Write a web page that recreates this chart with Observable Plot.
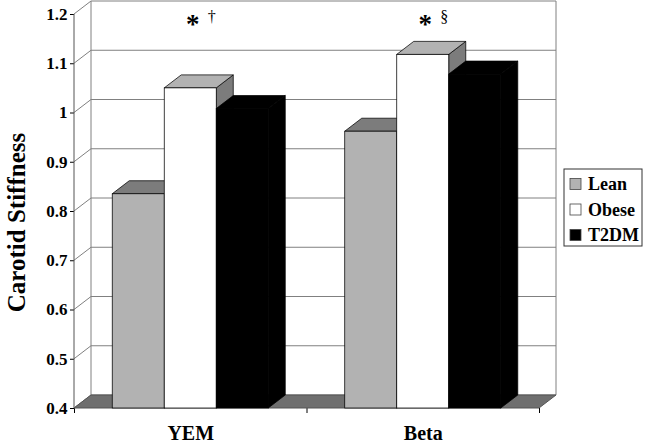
<!DOCTYPE html>
<html><head><meta charset="utf-8">
<script src="https://cdn.jsdelivr.net/npm/d3@7"></script>
<script src="https://cdn.jsdelivr.net/npm/@observablehq/plot@0.6"></script>
<style>
body{margin:0;background:#fff}
#chart svg text{font-family:'Liberation Serif','Times New Roman',serif !important;}
#chart svg [aria-label^="y-axis"] text{font-size:17px !important;font-weight:bold !important;}
</style>
</head><body><div id="chart"></div>
<script>
// ---- data ----
const categories = ["YEM", "Beta"];
const series = ["Lean", "Obese", "T2DM"];
const leanValues = [0.835, 0.962];
const obeseValues = [1.050, 1.118];
const t2dmValues = [1.008, 1.078];
const yTicks = [0.4, 0.5, 0.6, 0.7, 0.8, 0.9, 1.0, 1.1, 1.2];
const yTickLabels = ["0.4", "0.5", "0.6", "0.7", "0.8", "0.9", "1", "1.1", "1.2"];
const sigStar = ["*", "*"];
const sigMark = ["\u2020", "\u00a7"];
const yLabel = "Carotid Stiffness";

// ---- style / layout ----
const W = 648, H = 444;
const DX = 17, DY = -13;          // 3D depth offset (px)
const barW = 0.2237;              // bar width in band units
const frontFill = ["#b2b2b2", "#ffffff", "#000000"];
const topFill = ["#7c7c7c", "#b2b2b2", "#000000"];
const sideFill = ["#7c7c7c", "#7c7c7c", "#000000"];
const gridColor = "#808080";
const floorFill = "#6f6f6f";
const serif = "'Liberation Serif', 'Times New Roman', serif";

const valuesBySeries = [leanValues, obeseValues, t2dmValues];
const rows = [];
categories.forEach((c, i) => series.forEach((s, j) => {
  const x1 = i + 0.5 + (j - 1.5) * barW;
  rows.push({category: c, series: s, si: j, x1, x2: x1 + barW, value: valuesBySeries[j][i]});
}));
const yMin = yTicks[0], yMax = yTicks[yTicks.length - 1];

function wallsMark(index, scales) {
  const {x, y} = scales;
  const g = d3.create("svg:g");
  const X0 = x(0), X1 = x(categories.length), Y0 = y(yMin), Y1 = y(yMax);
  for (const t of yTicks) {
    const Y = y(t);
    g.append("path").attr("d", `M${X0},${Y}L${X0 + DX},${Y + DY}L${X1 + DX},${Y + DY}`)
      .attr("fill", "none").attr("stroke", gridColor).attr("stroke-width", 1);
  }
  g.append("path").attr("d", `M${X0 + DX},${Y0 + DY}L${X0 + DX},${Y1 + DY}`)
    .attr("stroke", gridColor).attr("fill", "none");
  g.append("path").attr("d", `M${X1 + DX},${Y0 + DY}L${X1 + DX},${Y1 + DY}`)
    .attr("stroke", gridColor).attr("fill", "none");
  g.append("path").attr("d", `M${X0},${Y0}L${X1},${Y0}L${X1 + DX},${Y0 + DY}L${X0 + DX},${Y0 + DY}Z`)
    .attr("fill", floorFill).attr("stroke", "#555").attr("stroke-width", 1);
  g.append("path").attr("d", `M${X0},${Y0}L${X0},${Y1}`).attr("stroke", "#555").attr("fill", "none");
  return g.node();
}

function facesMark(index, scales) {
  const {x, y} = scales;
  const g = d3.create("svg:g").attr("stroke", "#000").attr("stroke-width", 0.75).attr("stroke-linejoin", "round");
  const Yb = y(yMin);
  for (const r of rows) {
    const X2 = x(r.x2), Yv = y(r.value);
    g.append("path").attr("fill", sideFill[r.si])
      .attr("d", `M${X2},${Yv}L${X2 + DX},${Yv + DY}L${X2 + DX},${Yb + DY}L${X2},${Yb}Z`);
  }
  for (const r of rows) {
    const X1 = x(r.x1), X2 = x(r.x2), Yv = y(r.value);
    g.append("path").attr("fill", topFill[r.si])
      .attr("d", `M${X1},${Yv}L${X2},${Yv}L${X2 + DX},${Yv + DY}L${X1 + DX},${Yv + DY}Z`);
  }
  return g.node();
}

function legendMark() {
  const g = d3.create("svg:g");
  const bx = 564, by = 169, bw = 78, bh = 77;
  g.append("rect").attr("x", bx).attr("y", by).attr("width", bw).attr("height", bh)
    .attr("fill", "#fff").attr("stroke", "#333").attr("stroke-width", 1);
  series.forEach((s, j) => {
    const cy = 184 + j * 25.5;
    g.append("rect").attr("x", 570).attr("y", cy - 5.5).attr("width", 11).attr("height", 11)
      .attr("fill", frontFill[j]).attr("stroke", "#444").attr("stroke-width", 0.8);
    g.append("text").attr("x", 588).attr("y", cy).attr("dy", "0.35em")
      .attr("text-anchor", "start")
      .attr("font-size", 18).attr("font-weight", "bold").attr("font-family", serif)
      .attr("fill", "#000").text(s);
  });
  return g.node();
}

const plot = Plot.plot({
  width: W, height: H,
  marginLeft: 74, marginRight: 109, marginTop: 14, marginBottom: 36,
  style: {fontFamily: serif, fontWeight: "bold", fontSize: "17px", background: "#fff", color: "#000", overflow: "visible"},
  x: {domain: [0, categories.length], ticks: d3.range(categories.length + 1), tickFormat: () => "", tickSize: 5, label: null},
  y: {domain: [yMin, yMax], ticks: yTicks, tickFormat: d => yTickLabels[yTicks.indexOf(d)], tickSize: 4, tickPadding: 3, label: null},
  color: {domain: series, range: frontFill},
  marks: [
    wallsMark,
    facesMark,
    Plot.rect(rows, {x1: "x1", x2: "x2", y1: yMin, y2: "value", fill: "series", stroke: "#000", strokeWidth: 0.75}),
    Plot.text(categories, {x: (d, i) => i + 0.5, y: yMin, dy: 25, text: d => d, fontSize: 20, fontWeight: "bold"}),
    Plot.text(categories, {x: (d, i) => i + 0.5, y: yMax, dx: 2, dy: 18, text: (d, i) => sigStar[i], fontSize: 27, fontWeight: "bold", lineAnchor: "bottom"}),
    Plot.text(categories, {x: (d, i) => i + 0.5, y: yMax, dx: 21, dy: 7, text: (d, i) => sigMark[i], fontSize: 16, fontWeight: "normal", lineAnchor: "bottom"}),
    Plot.text([yLabel], {frameAnchor: "left", rotate: -90, textAnchor: "middle", dx: -58, dy: 11, text: d => d, fontSize: 25, fontWeight: "bold"}),
    legendMark
  ]
});
document.getElementById("chart").append(plot);
</script>
</body></html>
